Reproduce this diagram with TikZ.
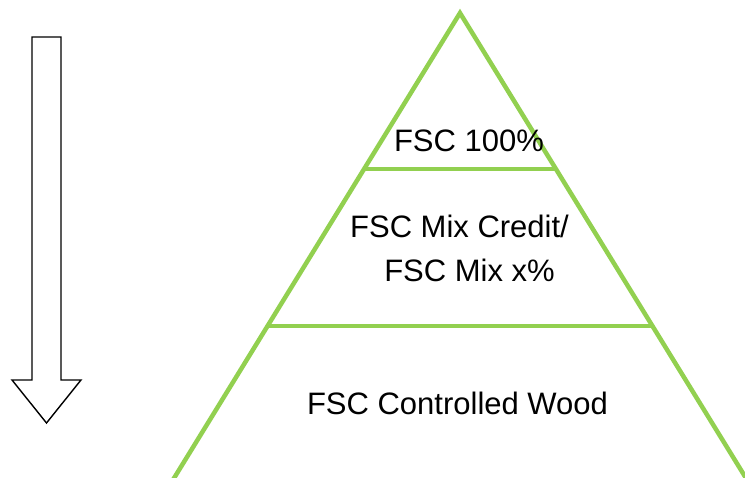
\documentclass[tikz,border=0pt]{standalone}
\usepackage{fontspec}
\setmainfont{Liberation Sans}
\definecolor{leafgreen}{RGB}{146,208,80}
\begin{document}
\begin{tikzpicture}[x=1pt, y=-1pt,
        level/.style={draw=leafgreen, line width=4.5pt},
        tier/.style={anchor=base, inner sep=0pt, font=\fontsize{31}{37}\selectfont}]
                \useasboundingbox (0,0) rectangle (745,478);
                % hollow arrow pointing down
                \draw [line width=1.4pt, miter limit=10] (32,37)--(61,37)--(61,380)--(81,380)--(46.5,423)--(12,380)--(32,380)--cycle;
                % pyramid
                \coordinate (apex) at (460,13);
                \draw [level, line join=miter] (165.5,492)--(apex)--(754.5,492);
                \draw [level] (363.6,169)--(556.4,169);
                \draw [level] (267,326)--(653,326);
                \node [tier] (top) at (469,152) {FSC 100\%};
                \node [tier] (mixa) at (459.5,238) {FSC Mix Credit/};
                \node [tier] (mixb) at (469.5,282) {FSC Mix x\%};
                \node [tier] (base) at (457.5,415) {FSC Controlled Wood};
            \end{tikzpicture}
\end{document}
